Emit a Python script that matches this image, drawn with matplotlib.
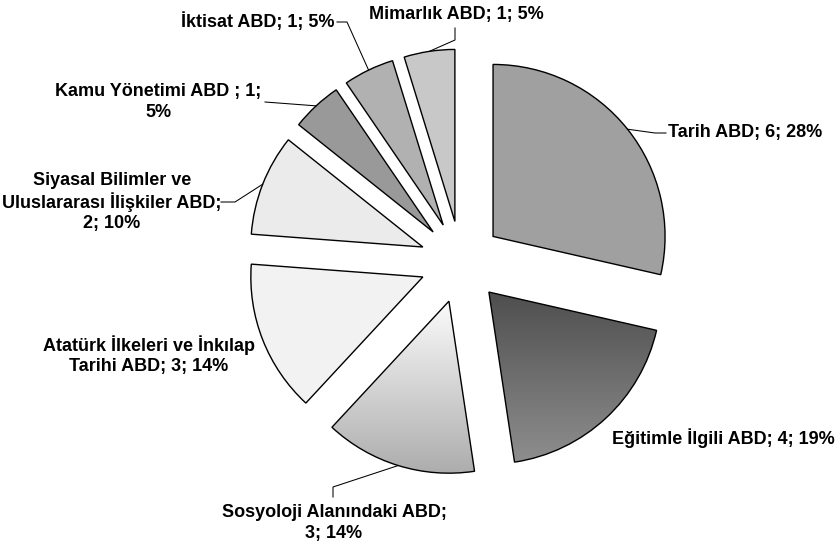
import numpy as np
import matplotlib
matplotlib.use("Agg")
import matplotlib.pyplot as plt
from matplotlib.colors import LinearSegmentedColormap

# --- Andmed ---
categories = ["Tarih ABD", "Eğitimle İlgili ABD", "Sosyoloji Alanındaki ABD",
              "Atatürk İlkeleri ve İnkılap Tarihi ABD",
              "Siyasal Bilimler ve Uluslararası İlişkiler ABD",
              "Kamu Yönetimi ABD ", "İktisat ABD", "Mimarlık ABD"]
counts = [6, 4, 3, 3, 2, 1, 1, 1]
percents = [28, 19, 14, 14, 10, 5, 5, 5]
label_texts = [
    "Tarih ABD; 6; 28%",
    "Eğitimle İlgili ABD; 4; 19%",
    "Sosyoloji Alanındaki ABD;\n3; 14%",
    "Atatürk İlkeleri ve İnkılap\nTarihi ABD; 3; 14%",
    "Siyasal Bilimler ve\nUluslararası İlişkiler ABD;\n2; 10%",
    "Kamu Yönetimi ABD ; 1;\n5%",
    "İktisat ABD; 1; 5%",
    "Mimarlık ABD; 1; 5%",
]

# --- Stiil ---
W, H = 839, 549
CX, CY, R = 461, H - 262, 172
EXPLODE = 41  # pie lisab nihke otse andmeühikutes
fills = ["#a0a0a0", None, None, "#f2f2f2", "#ebebeb", "#999999", "#b1b1b1", "#c8c8c8"]
gradients = {1: ("#4e4e4e", "#8e8e8e"), 2: ("#fbfbfb", "#adadad")}

# sildi asukohad (px, ekraani y) ja joonte murdepunktid
label_pos = [(668, 133, "left"), (612, 438, "left"), (334, 523, "center"),
             (149, 355, "center"), (112, 202, "center"), (158, 102, "center"),
             (181, 22, "left"), (456, 14, "center")]
leaders = {0: [(655, 133), (666, 133)], 2: [(333, 487), (333, 497)],
           4: [(235, 202), (221, 202)], 5: [(265, 102)],
           6: [(347, 22), (337, 22)], 7: [(455, 40), (455, 28)]}

plt.rcParams["font.family"] = ["Liberation Sans", "DejaVu Sans"]

fig = plt.figure(figsize=(W / 100, H / 100), dpi=100)
ax = fig.add_axes([0, 0, 1, 1])

wedges, _ = ax.pie(counts, explode=[EXPLODE] * len(counts), startangle=90,
                   counterclock=False, center=(CX, CY), radius=R,
                   colors=[f if f else "none" for f in fills],
                   wedgeprops=dict(edgecolor="black", linewidth=1.0))

# gradient täide
for i, (top, bot) in gradients.items():
    w = wedges[i]
    ext = w.get_path().get_extents()
    cmap = LinearSegmentedColormap.from_list("g%d" % i, [bot, top])
    grad = np.linspace(0, 1, 256).reshape(-1, 1)
    im = ax.imshow(grad, cmap=cmap, origin="lower", aspect="auto",
                   extent=[ext.x0, ext.x1, ext.y0, ext.y1], zorder=0.5)
    im.set_clip_path(w)
ax.set_xlim(0, W)
ax.set_ylim(0, H)
ax.set_aspect("equal")
ax.axis("off")

# sildid
total = sum(counts)
ang = 90.0
for i, c in enumerate(counts):
    span = 360.0 * c / total
    mid = np.deg2rad(ang - span / 2)
    ang -= span
    ex = CX + (EXPLODE + R) * np.cos(mid)
    ey = CY + (EXPLODE + R) * np.sin(mid)
    if i in leaders:
        pts = [(ex, ey)] + [(x, H - y) for x, y in leaders[i]]
        xs, ys = zip(*pts)
        ax.plot(xs, ys, color="black", lw=0.75, zorder=3)
    x, y, ha = label_pos[i]
    ax.text(x, H - y, label_texts[i], ha=ha, va="center", fontsize=13,
            fontweight="bold", linespacing=1.25, zorder=4)

fig.savefig("out.png", dpi=100, facecolor="white")
